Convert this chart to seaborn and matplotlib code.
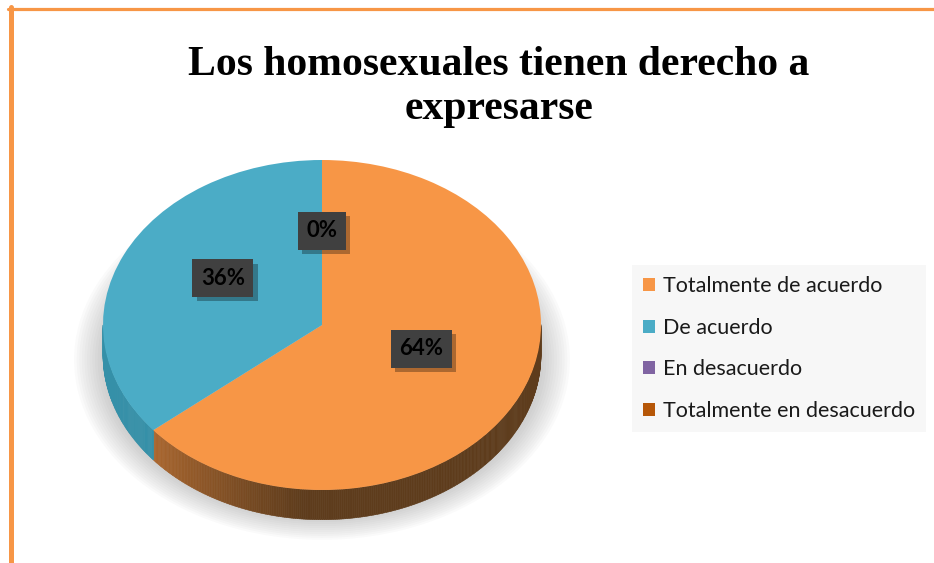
import numpy as np
import seaborn as sns
import matplotlib.pyplot as plt
import matplotlib.patheffects as pe
from matplotlib.patches import Ellipse
from matplotlib.collections import PolyCollection
from matplotlib.colors import to_rgb

# chart data
categories = ['Totalmente de acuerdo', 'De acuerdo', 'En desacuerdo', 'Totalmente en desacuerdo']
values = [64, 36, 0, 0]
title = 'Los homosexuales tienen derecho a\nexpresarse'

top_colors = ['#f79646', '#4bacc6', '#8064a2', '#b65708']
side_light = ['#ab672f', '#3590a8', '#6a528a', '#8a4306']
side_dark = ['#5e3c1c', '#2a7389', '#4d3b66', '#5a2c04']

sns.set_theme(style='white')
palette = sns.color_palette(top_colors)

fig = plt.figure(figsize=(9.34, 5.63), dpi=100)
fig.patch.set_facecolor('white')

# axes placed so that unit circle -> ellipse 219 x 165 px centred at (322, 325)
W, H = 934, 563
ax = fig.add_axes([60 / W, 13 / H, 530 / W, 420 / H])
depth = 0.18

# soft shadow under the pie
for k in range(12):
    g = 0.012 * k
    ax.add_patch(Ellipse((0.0, -depth - 0.03), 2 * (1.0 + g), 2 * (0.96 + g),
                         facecolor='#8a8a8a', edgecolor='none', alpha=0.04, zorder=0,
                         clip_on=False))

wedges, texts, autotexts = ax.pie(
    values, colors=palette, startangle=90, counterclock=False,
    autopct=lambda p: f'{p:.0f}%', pctdistance=0.5,
    wedgeprops=dict(linewidth=0), textprops=dict(fontsize=16), radius=1)
for w in wedges:
    w.set_zorder(3)

# side wall of the 3D pie (front half only)
polys, cols = [], []
for i, w in enumerate(wedges):
    t1, t2 = w.theta1, w.theta2
    if t2 - t1 <= 0:
        continue
    angs = np.arange(t1, t2 + 0.5, 0.5)
    angs = np.clip(angs, t1, t2)
    for a0, a1 in zip(angs[:-1], angs[1:]):
        m = ((a0 + a1) / 2) % 360
        if m < 180:
            continue
        r0, r1 = np.radians(a0), np.radians(a1)
        polys.append([(np.cos(r0), np.sin(r0)), (np.cos(r1), np.sin(r1)),
                      (np.cos(r1), np.sin(r1) - depth), (np.cos(r0), np.sin(r0) - depth)])
        f = np.clip((m - 220) / 45, 0, 1)
        c = (1 - f) * np.array(to_rgb(side_light[i])) + f * np.array(to_rgb(side_dark[i]))
        cols.append(c)
ax.add_collection(PolyCollection(polys, facecolors=cols, edgecolors=cols, linewidths=0.4,
                                 zorder=2, clip_on=False))

# percentage labels
for i, t in enumerate(autotexts):
    x, y = t.get_position()
    t.set_position((x, y + 0.07))
    t.set_fontfamily('Lato')
    t.set_fontweight('bold')
    t.set_color('black')
    t.set_zorder(5)
    t.set_bbox(dict(boxstyle='square,pad=0.38', facecolor='#404040', edgecolor='none'))
    t.get_bbox_patch().set_path_effects([
        pe.withSimplePatchShadow(offset=(3, -3), shadow_rgbFace='black', alpha=0.3), pe.Normal()])
    if i == 3:
        t.set_visible(False)

ax.set_aspect('auto')
ax.set_xlim((60 - 322) / 219, (590 - 322) / 219)
ax.set_ylim(-(550 - 325) / 165, (325 - 130) / 165)
ax.axis('off')

leg = fig.legend(wedges, categories, loc='center left', bbox_to_anchor=(632 / W, 1 - 348.5 / H),
                 frameon=True, facecolor='#f7f7f7', edgecolor='none', framealpha=1, fancybox=False,
                 prop=dict(family='Lato', size=15.5), handlelength=0.55, handleheight=0.55,
                 handletextpad=0.4, labelspacing=1.0, borderpad=0.5, borderaxespad=0)
for txt in leg.get_texts():
    txt.set_color('#1a1a1a')

fig.text(0.534, 1 - 87 / H, title, ha='center', va='center', fontsize=30, color='black',
         fontweight='bold', family='Liberation Serif', linespacing=1.2)

# orange chart frame (top and left edges)
fig.add_artist(plt.Line2D([8 / W, 1], [1 - 8.5 / H] * 2, color='#f79646', lw=2.3))
fig.add_artist(plt.Line2D([10.5 / W] * 2, [0, 1 - 7 / H], color='#f79646', lw=3.6))

fig.savefig('out.png', dpi=100)
